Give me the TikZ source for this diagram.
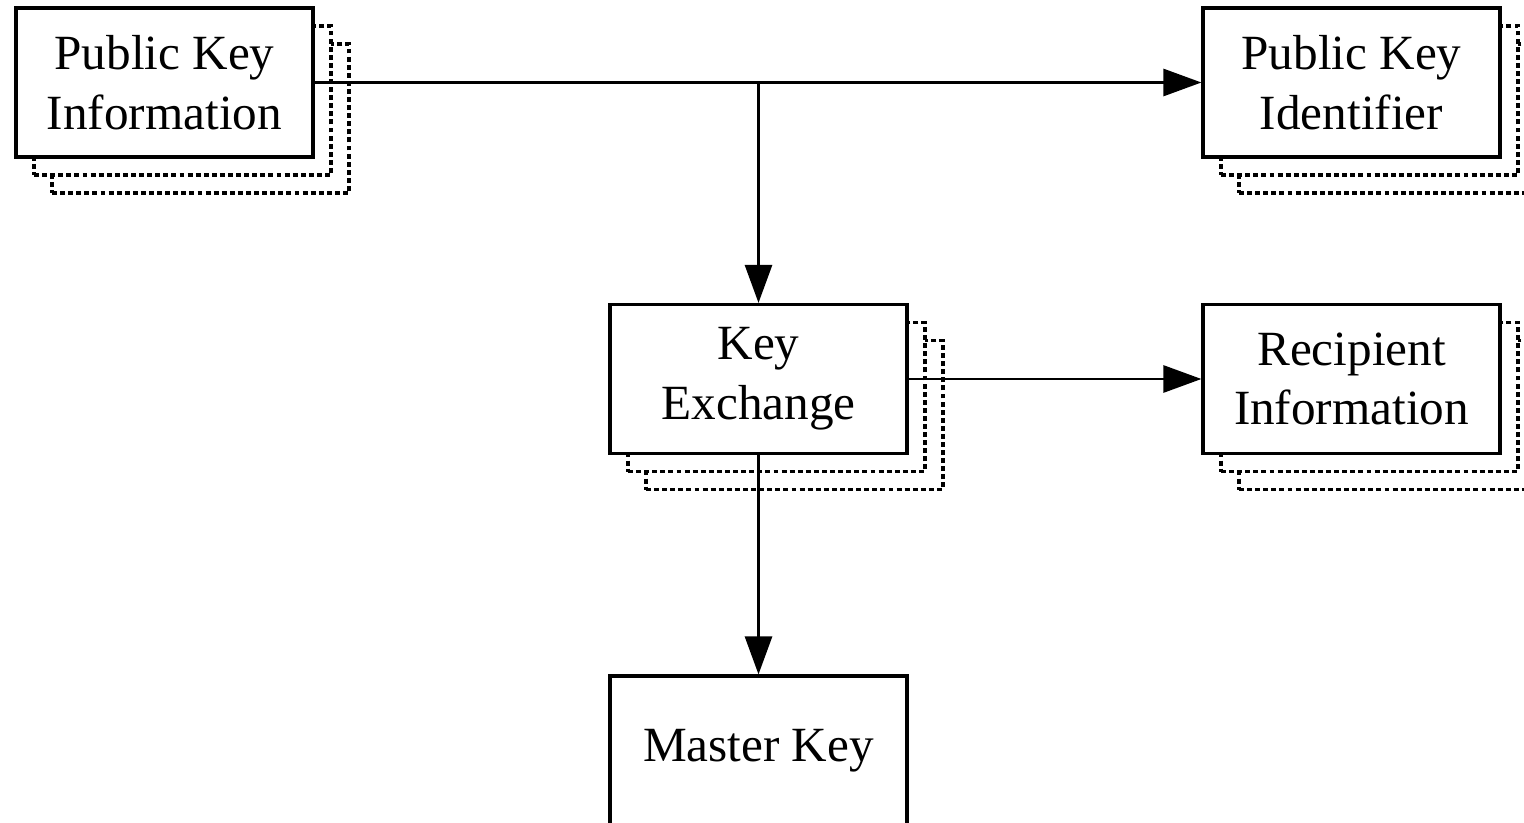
\documentclass[tikz,border=0pt]{standalone}
\usepackage{fontspec}
\setmainfont{Liberation Serif}
\usepackage{tikz}
\usepgflibrary{arrows.meta}
\usetikzlibrary{calc,shadows}

\begin{document}
\begin{tikzpicture}[
        flow arrow/.style={
        arrows = {-Triangle[length=0.38cm,width=0.27cm]},
        line width=0.8pt
        },
        block/.style={
                draw,
                line width=0.9pt,
                fill=white,
                rectangle,
                minimum width=2.97cm,
                minimum height=1.49cm,
                inner sep=0pt,
                align=center,
                font=\fontsize{14}{17}\selectfont
            },
        stacked/.style={
                double copy shadow={
                        shadow xshift=0.18cm,
                        shadow yshift=-0.18cm,
                        draw,
                        fill=white,
                        dash pattern=on 1.4pt off 0.9pt,
                        line width=1pt
                    },
                block
            }]
        \clip (0,0) rectangle (15.24,-8.23);
        \useasboundingbox (0,0) rectangle (15.24,-8.23);

        \node [stacked] (pkinfo) at (1.645,-0.825) {Public Key\\Information};
        \node [stacked] (pkid) at (13.515,-0.825) {Public Key\\Identifier};
        \node [stacked] (kex) at (7.585,-3.79) {Key\\Exchange};
        \node [stacked] (recip) at (13.515,-3.79) {Recipient\\Information};
        \node [block] (master) at (7.585,-7.505) {Master Key};

        \coordinate (split) at (kex.north |- pkinfo.east);

        \draw [flow arrow] (pkinfo) -- (pkid);
        \draw [flow arrow] (split) -- (kex);
        \draw [flow arrow] (kex) -- (recip);
        \draw [flow arrow] (kex) -- (master);
    \end{tikzpicture}
\end{document}
